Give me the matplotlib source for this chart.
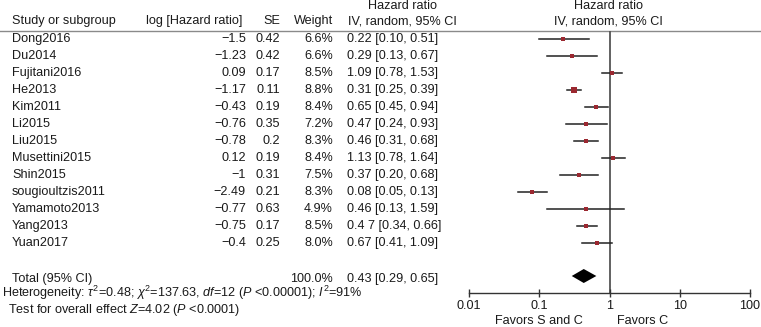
import matplotlib
matplotlib.use('Agg')
import matplotlib.pyplot as plt
from matplotlib.ticker import FixedLocator, FixedFormatter, NullLocator

plt.rcParams['font.family'] = ['Liberation Sans', 'DejaVu Sans']
plt.rcParams['mathtext.fontset'] = 'custom'
plt.rcParams['mathtext.rm'] = 'Liberation Sans'
plt.rcParams['mathtext.it'] = 'Liberation Sans:italic'

studies = ['Dong2016', 'Du2014', 'Fujitani2016', 'He2013', 'Kim2011', 'Li2015', 'Liu2015',
           'Musettini2015', 'Shin2015', 'sougioultzis2011', 'Yamamoto2013', 'Yang2013', 'Yuan2017']
log_hr = ['\u22121.5', '\u22121.23', '0.09', '\u22121.17', '\u22120.43', '\u22120.76', '\u22120.78',
          '0.12', '\u22121', '\u22122.49', '\u22120.77', '\u22120.75', '\u22120.4']
se = ['0.42', '0.42', '0.17', '0.11', '0.19', '0.35', '0.2', '0.19', '0.31', '0.21', '0.63', '0.17', '0.25']
weight = [6.6, 6.6, 8.5, 8.8, 8.4, 7.2, 8.3, 8.4, 7.5, 8.3, 4.9, 8.5, 8.0]
hr = [0.22, 0.29, 1.09, 0.31, 0.65, 0.47, 0.46, 1.13, 0.37, 0.08, 0.46, 0.47, 0.67]
lo = [0.10, 0.13, 0.78, 0.25, 0.45, 0.24, 0.31, 0.78, 0.20, 0.05, 0.13, 0.34, 0.41]
hi = [0.51, 0.67, 1.53, 0.39, 0.94, 0.93, 0.68, 1.64, 0.68, 0.13, 1.59, 0.66, 1.09]
hr_text = ['0.22 [0.10, 0.51]', '0.29 [0.13, 0.67]', '1.09 [0.78, 1.53]', '0.31 [0.25, 0.39]',
           '0.65 [0.45, 0.94]', '0.47 [0.24, 0.93]', '0.46 [0.31, 0.68]', '1.13 [0.78, 1.64]',
           '0.37 [0.20, 0.68]', '0.08 [0.05, 0.13]', '0.46 [0.13, 1.59]', '0.4 7 [0.34, 0.66]',
           '0.67 [0.41, 1.09]']
total_hr, total_lo, total_hi = 0.43, 0.29, 0.65
ticks = [0.01, 0.1, 1, 10, 100]
tick_labels = ['0.01', '0.1', '1', '10', '100']

W, H = 761, 327
fs = 9.1
tc = '#1a1a1a'
row_y = [39 + 17 * i for i in range(len(studies))]
total_y = 279

fig = plt.figure(figsize=(W / 100, H / 100), dpi=100)

# background axes in pixel coordinates for the table text
bg = fig.add_axes([0, 0, 1, 1])
bg.set_xlim(0, W)
bg.set_ylim(H, 0)
bg.axis('off')

bg.plot([0, W], [31, 31], color='#8a8a8a', lw=1.0)

bg.text(12, 21, 'Study or subgroup', fontsize=fs, color=tc, va='center')
bg.text(242, 21, 'log [Hazard ratio]', fontsize=fs, color=tc, va='center', ha='right')
bg.text(280, 21, 'SE', fontsize=fs, color=tc, va='center', ha='right')
bg.text(333, 21, 'Weight', fontsize=fs, color=tc, va='center', ha='right')
for cx in (402, 608):
    bg.text(cx, 6, 'Hazard ratio', fontsize=fs, color=tc, va='center', ha='center')
    bg.text(cx, 21, 'IV, random, 95% CI', fontsize=fs, color=tc, va='center', ha='center')

for i, y in enumerate(row_y):
    bg.text(12, y, studies[i], fontsize=fs, color=tc, va='center')
    bg.text(246, y, log_hr[i], fontsize=fs, color=tc, va='center', ha='right')
    bg.text(280, y, se[i], fontsize=fs, color=tc, va='center', ha='right')
    bg.text(333, y, '%.1f%%' % weight[i], fontsize=fs, color=tc, va='center', ha='right')
    bg.text(347, y, hr_text[i], fontsize=fs, color=tc, va='center')

bg.text(12, total_y, 'Total (95% CI)', fontsize=fs, color=tc, va='center')
bg.text(333, total_y, '100.0%', fontsize=fs, color=tc, va='center', ha='right')
bg.text(347, total_y, '%.2f [%.2f, %.2f]' % (total_hr, total_lo, total_hi), fontsize=fs, color=tc, va='center')
bg.text(2, 293, r'Heterogeneity: $\tau^2$=0.48; $\chi^2$=137.63, $df$=12 ($P$ <0.00001); $I^2$=91%',
        fontsize=fs, color=tc, va='center')
bg.text(8, 309.5, r'Test for overall effect $Z$=4.02 ($P$ <0.0001)', fontsize=fs, color=tc, va='center')
bg.text(583, 321, 'Favors S and C', fontsize=fs, color=tc, va='center', ha='right')
bg.text(617, 321, 'Favors C', fontsize=fs, color=tc, va='center', ha='left')

# forest plot axes
x0, x1 = 469, 750
ytop, ybot = 31, 293
ax = fig.add_axes([x0 / W, (H - ybot) / H, (x1 - x0) / W, (ybot - ytop) / H])
ax.set_xscale('log')
ax.set_xlim(0.01, 100)
ax.set_ylim(ybot, ytop)
ax.patch.set_alpha(0)
for s in ('top', 'left', 'right'):
    ax.spines[s].set_visible(False)
ax.spines['bottom'].set_color('#333333')
ax.spines['bottom'].set_linewidth(1.0)
ax.yaxis.set_visible(False)
ax.xaxis.set_major_locator(FixedLocator(ticks))
ax.xaxis.set_major_formatter(FixedFormatter(tick_labels))
ax.xaxis.set_minor_locator(NullLocator())
ax.tick_params(axis='x', direction='inout', length=6, width=1.0, color='#333333',
               labelsize=fs, labelcolor=tc, pad=2)

ax.axvline(1, color='#555555', lw=1.3, zorder=1)

for i, y in enumerate(row_y):
    ax.plot([lo[i], hi[i]], [y, y], color='#222222', lw=1.1, zorder=2)
    ax.plot(hr[i], y, marker='s', color='#9b2830', markersize=weight[i] * 0.3 + 1.0,
            markeredgewidth=0, zorder=3)

ax.fill([total_lo, total_hr, total_hi, total_hr], [total_y - 3, total_y - 10, total_y - 3, total_y + 4],
        color='black', lw=0, zorder=3)

fig.savefig('out.png', dpi=100)
